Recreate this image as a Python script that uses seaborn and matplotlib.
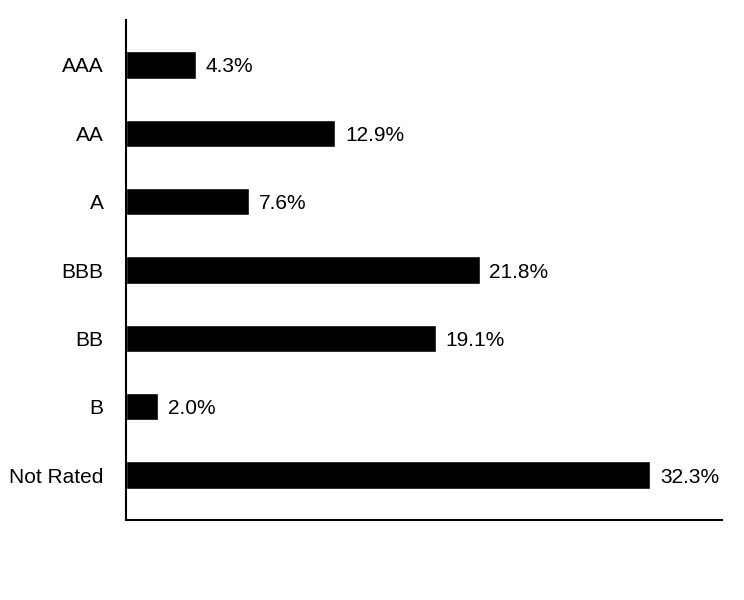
import pandas as pd
import seaborn as sns
import matplotlib.pyplot as plt

ratings = ['AAA', 'AA', 'A', 'BBB', 'BB', 'B', 'Not Rated']
shares = [4.3, 12.9, 7.6, 21.8, 19.1, 2.0, 32.3]

df = pd.DataFrame({'rating': ratings, 'share': shares})

sns.set_style('white')
plt.rcParams['font.family'] = ['Liberation Sans', 'DejaVu Sans']
plt.rcParams['text.color'] = 'black'
plt.rcParams['ytick.color'] = 'black'
plt.rcParams['ytick.labelcolor'] = 'black'

fig = plt.figure(figsize=(7.44, 6), dpi=100)
ax = fig.add_axes([0.169, 0.133, 0.801, 0.834])

sns.barplot(data=df, x='share', y='rating', orient='h', color='black',
            width=0.4, saturation=1, ax=ax)

for i, v in enumerate(shares):
    ax.text(v + 0.6, i, f'{v:.1f}%', va='center_baseline', ha='left',
            fontsize=15, color='black')

ax.set_xlim(0, 36.7)
ax.set_ylim(6.66, -0.66)
ax.set_xlabel('')
ax.set_ylabel('')
ax.set_xticks([])
ax.tick_params(axis='y', length=0, labelsize=15, pad=16, labelcolor='black')
for s in ['top', 'right']:
    ax.spines[s].set_visible(False)
for s in ['left', 'bottom']:
    ax.spines[s].set_color('black')
    ax.spines[s].set_linewidth(1.5)

fig.savefig('out.png', dpi=100)
